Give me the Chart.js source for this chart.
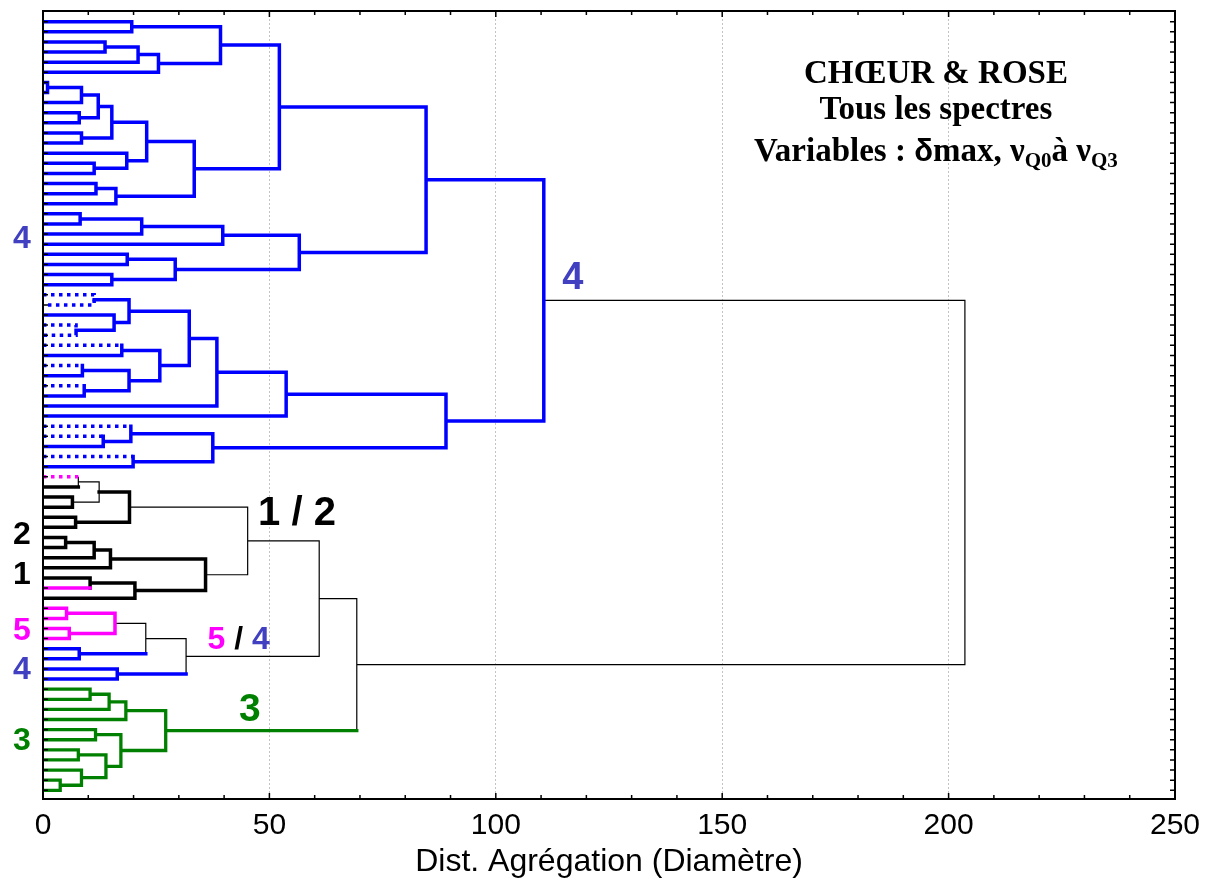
<!DOCTYPE html>
<html>
<head>
<meta charset="utf-8">
<script src="https://cdn.jsdelivr.net/npm/chart.js@4.4.0/dist/chart.umd.min.js"></script>
<style>
  html, body { margin: 0; padding: 0; background: #fff; }
</style>
</head>
<body>
<canvas id="dendro" width="1220" height="884"></canvas>
<script>
// ------- Data -------
// leaf index (top to bottom) -> cluster group
const leafGroup = [
  'c4','c4','c4','c4','c4','c4','c4','c4','c4','c4',
  'c4','c4','c4','c4','c4','c4','c4','c4','c4','c4',
  'c4','c4','c4','c4','c4','c4','c4',
  'c4x','c4x','c4','c4x','c4x','c4x','c4','c4x','c4','c4x',
  'c4','c4','c4','c4x','c4x','c4','c4x','c4',
  'c5x','c12','c12','c12','c12','c12','c12','c12','c12','c12','c12',
  'c5','c12',
  'c5','c5','c5','c5',
  'c4','c4','c4','c4',
  'c3','c3','c3','c3','c3','c3','c3','c3','c3','c3','c3'
];

// merges: [id, childA, childB, distance, group of vertical, group of link to parent]
const mergesBlue = [
  ['m1', 0, 1, 19.6, 'c4', 'c4'],
  ['m2', 2, 3, 13.7, 'c4', 'c4'],
  ['m3', 'm2', 4, 21.0, 'c4', 'c4'],
  ['m4', 'm3', 5, 25.5, 'c4', 'c4'],
  ['m5', 'm1', 'm4', 39.2, 'c4', 'c4'],
  ['m6', 6, 7, 1.0, 'c4', 'c4'],
  ['m7', 'm6', 8, 8.5, 'c4', 'c4'],
  ['m8', 9, 10, 8.0, 'c4', 'c4'],
  ['m9', 'm7', 'm8', 12.2, 'c4', 'c4'],
  ['m10', 11, 12, 8.5, 'c4', 'c4'],
  ['m11', 'm9', 'm10', 15.2, 'c4', 'c4'],
  ['m12', 14, 15, 11.3, 'c4', 'c4'],
  ['m13', 13, 'm12', 18.5, 'c4', 'c4'],
  ['m14', 'm11', 'm13', 22.9, 'c4', 'c4'],
  ['m15', 16, 17, 11.7, 'c4', 'c4'],
  ['m16', 'm15', 18, 16.1, 'c4', 'c4'],
  ['m17', 'm14', 'm16', 33.4, 'c4', 'c4'],
  ['m18', 'm5', 'm17', 52.2, 'c4', 'c4'],
  ['m19', 19, 20, 8.2, 'c4', 'c4'],
  ['m20', 'm19', 21, 21.8, 'c4', 'c4'],
  ['m21', 'm20', 22, 39.7, 'c4', 'c4'],
  ['m22', 23, 24, 18.6, 'c4', 'c4'],
  ['m23', 25, 26, 15.2, 'c4', 'c4'],
  ['m24', 'm22', 'm23', 29.2, 'c4', 'c4'],
  ['m25', 'm21', 'm24', 56.6, 'c4', 'c4'],
  ['m26', 'm18', 'm25', 84.6, 'c4', 'c4'],
  ['m27', 27, 28, 11.3, 'c4x', 'c4'],
  ['m28', 30, 31, 7.3, 'c4x', 'c4'],
  ['m29', 29, 'm28', 15.7, 'c4', 'c4'],
  ['m30', 'm27', 'm29', 19.0, 'c4', 'c4'],
  ['m31', 32, 33, 17.4, 'c4', 'c4'],
  ['m32', 34, 35, 8.7, 'c4', 'c4'],
  ['m33', 36, 37, 9.1, 'c4', 'c4'],
  ['m34', 'm32', 'm33', 19.0, 'c4', 'c4'],
  ['m35', 'm31', 'm34', 25.8, 'c4', 'c4'],
  ['m36', 'm30', 'm35', 32.3, 'c4', 'c4'],
  ['m37', 'm36', 38, 38.4, 'c4', 'c4'],
  ['m38', 'm37', 39, 53.7, 'c4', 'c4'],
  ['m39', 41, 42, 13.3, 'c4', 'c4'],
  ['m40', 40, 'm39', 19.4, 'c4', 'c4'],
  ['m41', 43, 44, 19.9, 'c4', 'c4'],
  ['m42', 'm40', 'm41', 37.5, 'c4', 'c4'],
  ['m43', 'm38', 'm42', 89.0, 'c4', 'c4'],
  ['m44', 'm26', 'm43', 110.6, 'c4', 'link']
];

const mergesBlack = [
  ['m45', 45, 46, 7.8, 'link', 'link'],
  ['m46', 47, 48, 6.5, 'c12', 'link'],
  ['m47', 'm45', 'm46', 12.4, 'link', 'c12'],
  ['m48', 49, 50, 7.2, 'c12', 'c12'],
  ['m49', 'm47', 'm48', 19.1, 'c12', 'link'],
  ['m50', 51, 52, 5.0, 'c12', 'c12'],
  ['m51', 'm50', 53, 11.3, 'c12', 'c12'],
  ['m52', 'm51', 54, 14.9, 'c12', 'c12'],
  ['m53', 55, 56, 10.4, 'c12', 'c12'],
  ['m54', 'm53', 57, 20.3, 'c12', 'c12'],
  ['m55', 'm52', 'm54', 35.9, 'c12', 'link'],
  ['m56', 'm49', 'm55', 45.2, 'link', 'link']
];

const mergesMagenta = [
  ['m57', 58, 59, 5.2, 'c5', 'c5'],
  ['m58', 60, 61, 5.8, 'c5', 'c5'],
  ['m59', 'm57', 'm58', 15.9, 'c5', 'link'],
  ['m60', 62, 63, 8.0, 'c4', 'c4'],
  ['m61', 'm59', 'm60', 22.7, 'link', 'link'],
  ['m62', 64, 65, 16.4, 'c4', 'c4'],
  ['m63', 'm61', 'm62', 31.6, 'link', 'link'],
  ['m64', 'm56', 'm63', 61.0, 'link', 'link']
];

const mergesGreen = [
  ['m65', 66, 67, 10.4, 'c3', 'c3'],
  ['m66', 'm65', 68, 14.6, 'c3', 'c3'],
  ['m67', 'm66', 69, 18.3, 'c3', 'c3'],
  ['m68', 70, 71, 11.6, 'c3', 'c3'],
  ['m69', 72, 73, 7.8, 'c3', 'c3'],
  ['m70', 75, 76, 3.8, 'c3', 'c3'],
  ['m71', 74, 'm70', 8.5, 'c3', 'c3'],
  ['m72', 'm69', 'm71', 13.9, 'c3', 'c3'],
  ['m73', 'm68', 'm72', 17.2, 'c3', 'c3'],
  ['m74', 'm67', 'm73', 27.1, 'c3', 'c3']
];

const mergesTop = [
  ['m75', 'm64', 'm74', 69.3, 'link', 'link'],
  ['m76', 'm44', 'm75', 203.6, 'link', 'link']
];

const xTickValues = [0, 50, 100, 150, 200, 250];

// ------- Styles -------
const groupStyle = {
  link: { color: '#000000', width: 1.2, cap: 'butt', order: 9 },
  c12:  { color: '#000000', width: 3.5, cap: 'square', order: 5 },
  c4:   { color: '#0000ff', width: 3.5, cap: 'square', order: 5 },
  c5:   { color: '#ff00ff', width: 3.5, cap: 'square', order: 4 },
  c3:   { color: '#008000', width: 3.3, cap: 'square', order: 5 },
  c4x:  { color: '#0000ff', width: 3.5, cap: 'butt', dash: [3.5, 4.5], order: 1 },
  c5x:  { color: '#ff00ff', width: 3.5, cap: 'butt', dash: [3.5, 4.5], order: 1 }
};
const BLUE_TXT = '#4040c0', MAG = '#ff00ff', GREEN = '#008000';
const SANS = '"Liberation Sans", Arial, sans-serif';
const SERIF = '"Liberation Serif", "Times New Roman", serif';

// ------- Build link segments -------
const nodeY = {}, nodeH = {}, nodeUp = {};
leafGroup.forEach((g, i) => { nodeY[i] = i; nodeH[i] = 0; nodeUp[i] = g; });

const lines = {};
Object.keys(groupStyle).forEach(g => lines[g] = []);

function addPath(g, pts) {
  const arr = lines[g];
  pts.forEach(p => arr.push({ x: p[0], y: p[1] }));
  arr.push({ x: pts[pts.length - 1][0], y: null }); // break
}

[...mergesBlue, ...mergesBlack, ...mergesMagenta, ...mergesGreen, ...mergesTop].forEach(m => {
  const [id, a, b, h, gv, gup] = m;
  const ya = nodeY[a], yb = nodeY[b];
  const segs = [
    { g: nodeUp[a], pts: [[nodeH[a], ya], [h, ya]] },
    { g: gv, pts: [[h, ya], [h, yb]] },
    { g: nodeUp[b], pts: [[h, yb], [nodeH[b], yb]] }
  ];
  // join consecutive segments of the same group into one polyline
  const paths = [];
  segs.forEach(s => {
    const last = paths[paths.length - 1];
    if (last && last.g === s.g) last.pts.push(s.pts[1]);
    else paths.push({ g: s.g, pts: s.pts.slice() });
  });
  paths.forEach(p => addPath(p.g, p.pts));
  nodeY[id] = (ya + yb) / 2;
  nodeH[id] = h;
  nodeUp[id] = gup;
});

const datasets = Object.keys(groupStyle).map(g => {
  const s = groupStyle[g];
  return {
    label: g,
    data: lines[g],
    borderColor: s.color,
    borderWidth: s.width,
    borderDash: s.dash || [],
    borderCapStyle: s.cap,
    borderJoinStyle: 'miter',
    pointRadius: 0,
    pointHoverRadius: 0,
    fill: false,
    tension: 0,
    spanGaps: false,
    order: s.order,
    clip: { left: 0, top: 5, right: 5, bottom: 5 }
  };
});

// ------- Frame, inward ticks and texts -------
const decor = {
  id: 'decor',
  afterDraw(chart) {
    const { ctx, chartArea: a, scales: { x, y } } = chart;
    ctx.save();
    // inward ticks
    ctx.strokeStyle = '#000';
    ctx.lineWidth = 1.5;
    ctx.beginPath();
    for (let v = 0; v <= 250; v += 10) {
      const px = x.getPixelForValue(v);
      const len = v % 50 === 0 ? 6 : 4;
      ctx.moveTo(px, a.top); ctx.lineTo(px, a.top + len);
      ctx.moveTo(px, a.bottom); ctx.lineTo(px, a.bottom - len);
    }
    for (let i = 0; i < leafGroup.length; i++) {
      const py = y.getPixelForValue(i);
      ctx.moveTo(a.left, py); ctx.lineTo(a.left + 5, py);
      ctx.moveTo(a.right, py); ctx.lineTo(a.right - 5, py);
    }
    ctx.stroke();
    // frame
    ctx.lineWidth = 2;
    ctx.strokeRect(a.left, a.top, a.right - a.left, a.bottom - a.top);

    ctx.textAlign = 'center';
    ctx.textBaseline = 'middle';
    // group labels left of the axis
    const lx = a.left - 21;
    [['4', 21.54, BLUE_TXT], ['2', 50.77, '#000'], ['1', 54.73, '#000'],
     ['5', 60.22, MAG], ['4', 64.08, BLUE_TXT], ['3', 71.1, GREEN]].forEach(([t, v, c]) => {
      ctx.font = 'bold 32px ' + SANS;
      ctx.fillStyle = c;
      ctx.fillText(t, lx, y.getPixelForValue(v));
    });

    // cluster labels inside the plot
    ctx.font = 'bold 38px ' + SANS;
    ctx.fillStyle = BLUE_TXT;
    ctx.fillText('4', x.getPixelForValue(117.0), y.getPixelForValue(25.35));
    ctx.font = 'bold 40px ' + SANS;
    ctx.fillStyle = '#000';
    ctx.fillText('1 / 2', x.getPixelForValue(56.1), y.getPixelForValue(48.65));
    ctx.font = 'bold 39px ' + SANS;
    ctx.fillStyle = GREEN;
    ctx.fillText('3', x.getPixelForValue(45.7), y.getPixelForValue(68.08));

    // "5 / 4" in three colours
    ctx.font = 'bold 32px ' + SANS;
    const parts = [['5', MAG], [' / ', '#000'], ['4', BLUE_TXT]];
    const tw = parts.reduce((s, p) => s + ctx.measureText(p[0]).width, 0);
    let cx = x.getPixelForValue(43.2) - tw / 2;
    const cy = y.getPixelForValue(61.16);
    ctx.textAlign = 'left';
    parts.forEach(([t, c]) => { ctx.fillStyle = c; ctx.fillText(t, cx, cy); cx += ctx.measureText(t).width; });

    // title block
    ctx.fillStyle = '#000';
    ctx.textAlign = 'center';
    ctx.textBaseline = 'alphabetic';
    const tx = x.getPixelForValue(197.2);
    ctx.font = 'bold 33px ' + SERIF;
    ctx.fillText('CHŒUR & ROSE', tx, y.getPixelForValue(4.97) + 11);
    ctx.fillText('Tous les spectres', tx, y.getPixelForValue(8.54) + 11);
    const big = 'bold 33px ' + SERIF, small = 'bold 21px ' + SERIF, sym = 'bold 31px ' + SANS;
    const t3 = [
      ['Variables : ', big, 0], ['δ', sym, 0], ['max, ', big, 0],
      ['ν', big, 0], ['Q0', small, 6], ['à ', big, 0], ['ν', big, 0], ['Q3', small, 6]
    ];
    let w3 = 0;
    t3.forEach(([t, f]) => { ctx.font = f; w3 += ctx.measureText(t).width; });
    let px3 = tx - w3 / 2;
    const by3 = y.getPixelForValue(12.69) + 11;
    ctx.textAlign = 'left';
    t3.forEach(([t, f, dy]) => { ctx.font = f; ctx.fillText(t, px3, by3 + dy); px3 += ctx.measureText(t).width; });
    ctx.restore();
  }
};

new Chart(document.getElementById('dendro'), {
  type: 'line',
  data: { datasets },
  options: {
    responsive: false,
    animation: false,
    events: [],
    layout: { padding: { left: 43, right: 45, top: 11, bottom: 0 } },
    plugins: { legend: { display: false }, tooltip: { enabled: false } },
    scales: {
      x: {
        type: 'linear', min: 0, max: 250, position: 'bottom',
        afterBuildTicks: s => { s.ticks = xTickValues.map(v => ({ value: v })); },
        afterFit: s => { s.height = 85; },
        ticks: { autoSkip: false, maxRotation: 0, padding: 9, color: '#000',
                 font: { family: SANS, size: 30 } },
        grid: {
          drawTicks: false, lineWidth: 1,
          color: c => (c.tick && c.tick.value > 0 && c.tick.value < 250) ? '#c4c4c4' : 'rgba(0,0,0,0)'
        },
        border: { display: false, dash: [2, 2] },
        title: { display: true, text: 'Dist. Agrégation (Diamètre)', color: '#000',
                 font: { family: SANS, size: 32 }, padding: { top: 0, bottom: 3 } }
      },
      y: { type: 'linear', min: -1.06, max: 76.86, reverse: true, display: false }
    }
  },
  plugins: [decor]
});
</script>
</body>
</html>
